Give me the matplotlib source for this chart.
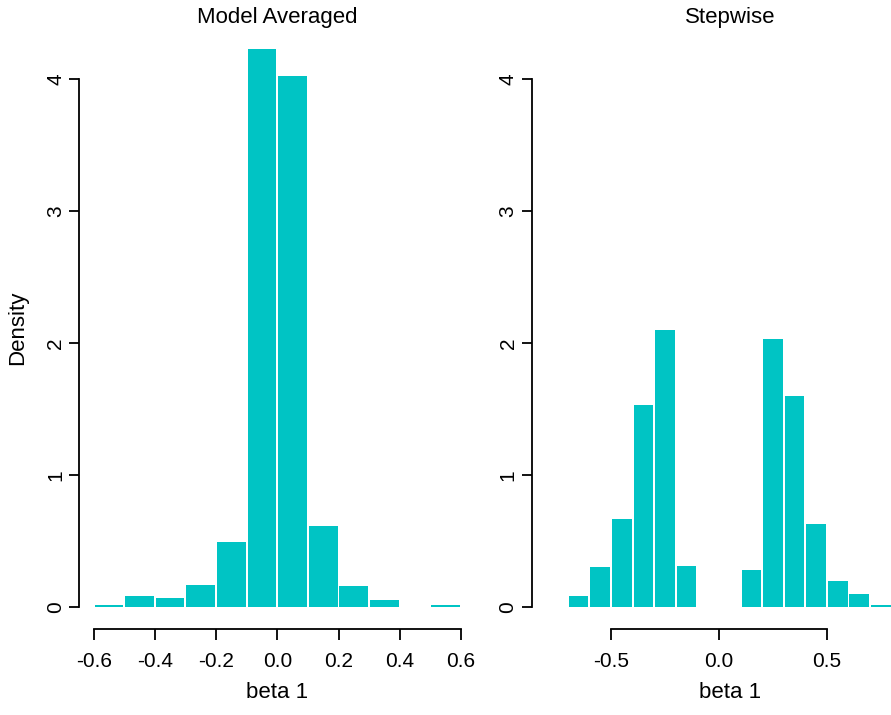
import matplotlib
matplotlib.use("Agg")
import matplotlib.pyplot as plt
import numpy as np

plt.rcParams['font.family'] = ['Liberation Sans', 'DejaVu Sans']

# histogram bins (left edges, width 0.1) and densities
ma_edges = [-0.6, -0.5, -0.4, -0.3, -0.2, -0.1, 0.0, 0.1, 0.2, 0.3, 0.4, 0.5]
ma_density = [0.012, 0.08, 0.07, 0.17, 0.49, 4.23, 4.02, 0.61, 0.16, 0.05, 0.0, 0.012]

sw_edges = [-0.8, -0.7, -0.6, -0.5, -0.4, -0.3, -0.2, -0.1, 0.0,
            0.1, 0.2, 0.3, 0.4, 0.5, 0.6, 0.7, 0.8]
sw_density = [0.0, 0.08, 0.30, 0.67, 1.53, 2.10, 0.31, 0.0, 0.0,
              0.28, 2.03, 1.60, 0.63, 0.20, 0.10, 0.012, 0.0]

ma_ticks = [-0.6, -0.4, -0.2, 0.0, 0.2, 0.4, 0.6]
sw_ticks = [-0.5, 0.0, 0.5]
y_ticks = [0, 1, 2, 3, 4]

bin_w = 0.1
bar_color = '#00C4C4'
ylim = (-0.169, 4.399)

W, H = 891, 715
fig = plt.figure(figsize=(W / 100, H / 100), dpi=100)


def px_axes(x0, x1, y_top, y_bot):
    return fig.add_axes([x0 / W, (H - y_bot) / H, (x1 - x0) / W, (y_bot - y_top) / H])


def hist_bars(ax, edges, dens, gap):
    # white gap between neighbouring bins, as in the R histogram
    ax.bar(np.array(edges) + gap / 2, dens, width=bin_w - gap, align='edge',
           color=bar_color, edgecolor='none')


def style(ax, xticks, title):
    ax.set_ylim(*ylim)
    for s in ['top', 'right']:
        ax.spines[s].set_visible(False)
    ax.spines['left'].set_bounds(0, 4)
    ax.spines['bottom'].set_bounds(xticks[0], xticks[-1])
    ax.set_xticks(xticks)
    ax.set_xticklabels([f"{t:.1f}" for t in xticks])
    ax.set_yticks(y_ticks)
    ax.set_yticklabels([str(t) for t in y_ticks], rotation=90, va='center')
    ax.tick_params(axis='x', length=8, width=1.3, pad=8, labelsize=15)
    ax.tick_params(axis='y', length=7, width=1.3, pad=3, labelsize=15)
    for s in ['left', 'bottom']:
        ax.spines[s].set_linewidth(1.3)
    ax.text(0.5, 1.0154, title, transform=ax.transAxes, ha='center', va='center', fontsize=16)
    ax.text(0.5, -0.104, 'beta 1', transform=ax.transAxes, ha='center', va='center', fontsize=16)


ax1 = px_axes(79, 475.6, 26.3, 629.3)
ax1.set_xlim(-0.648, 0.648)
hist_bars(ax1, ma_edges, ma_density, 0.0065)
style(ax1, ma_ticks, 'Model Averaged')
ax1.text(-0.156, 0.5, 'Density', transform=ax1.transAxes, rotation=90,
         ha='center', va='center', fontsize=16)

ax2 = px_axes(531.5, 928, 26.3, 629.3)
ax2.set_xlim(-0.868, 0.968)
hist_bars(ax2, sw_edges, sw_density, 0.009)
style(ax2, sw_ticks, 'Stepwise')

fig.savefig('out.png', dpi=100)
